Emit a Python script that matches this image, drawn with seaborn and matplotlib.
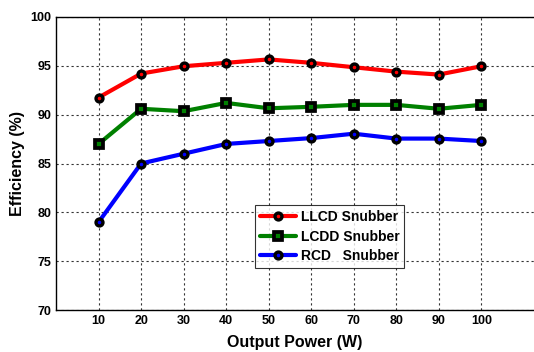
import pandas as pd
import seaborn as sns
import matplotlib.pyplot as plt

# -----------------------------
# Data
# -----------------------------
power = [10, 20, 30, 40, 50, 60, 70, 80, 90, 100]
llcd = [91.75, 94.2, 94.95, 95.3, 95.65, 95.3, 94.85, 94.4, 94.1, 94.95]
lcdd = [87.0, 90.6, 90.35, 91.2, 90.65, 90.8, 91.0, 91.0, 90.6, 91.0]
rcd = [79.0, 85.0, 86.0, 87.0, 87.3, 87.6, 88.05, 87.55, 87.55, 87.3]
y_ticks = [70, 75, 80, 85, 90, 95, 100]

series = [
    ("LLCD Snubber", llcd, "red", "o"),
    ("LCDD Snubber", lcdd, "green", "s"),
    ("RCD   Snubber", rcd, "blue", "o"),
]

sns.set_style("white")
plt.rcParams["font.family"] = ["Liberation Sans", "DejaVu Sans"]
plt.rcParams["font.weight"] = "bold"
plt.rcParams["text.color"] = "black"
plt.rcParams["axes.labelcolor"] = "black"
plt.rcParams["xtick.color"] = "black"
plt.rcParams["ytick.color"] = "black"

fig = plt.figure(figsize=(5.34, 3.52), dpi=100)
ax = fig.add_axes([0.105, 0.119, 0.895, 0.833])

for name, vals, color, marker in series:
    df = pd.DataFrame({"Power": power, "Eff": vals})
    sns.lineplot(
        data=df, x="Power", y="Eff", ax=ax,
        color=color, linewidth=3, label=name,
        marker=marker, markersize=5 if marker == "o" else 6,
        markerfacecolor=color, markeredgecolor="black",
        markeredgewidth=2.4 if marker == "o" else 2.7,
    )

ax.set_xlim(0, 112.4)
ax.set_ylim(70, 100)
ax.set_xticks(power)
ax.set_yticks(y_ticks)
ax.tick_params(labelsize=9, direction="in", length=4, width=0.8)
for lab in ax.get_xticklabels() + ax.get_yticklabels():
    lab.set_fontweight("bold")

ax.grid(True, color="black", linestyle=(0, (2, 2.5)), linewidth=0.8, alpha=0.8)
for s in ["left", "bottom", "top"]:
    ax.spines[s].set_color("black")
    ax.spines[s].set_linewidth(1.0)
ax.spines["right"].set_visible(False)

ax.set_xlabel("Output Power (W)", fontsize=11.5, fontweight="bold", labelpad=6)
ax.set_ylabel("Efficiency (%)", fontsize=11.5, fontweight="bold", labelpad=4)

leg = ax.legend(
    loc="upper left", bbox_to_anchor=(0.417, 0.358), borderaxespad=0,
    frameon=True, fancybox=False, edgecolor="black",
    prop={"weight": "bold", "size": 10},
    handlelength=2.6, handletextpad=0.3, borderpad=0.35, labelspacing=0.4,
)
leg.get_frame().set_linewidth(0.8)

fig.savefig("out.png", dpi=100)
